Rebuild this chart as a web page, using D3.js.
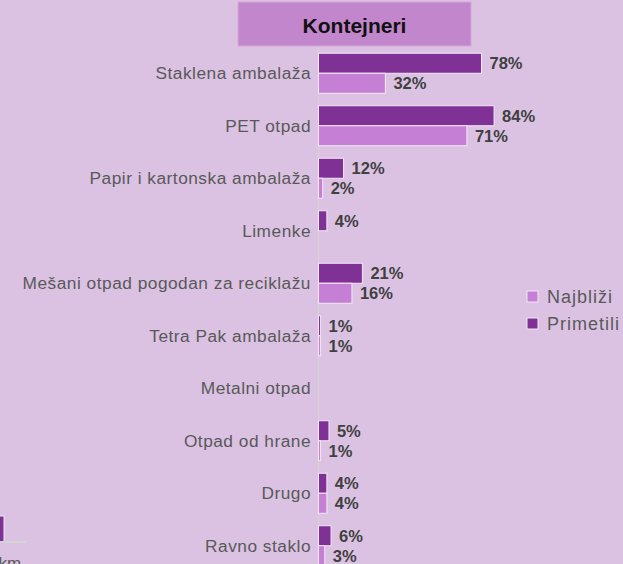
<!DOCTYPE html>
<html>
<head>
<meta charset="utf-8">
<script src="https://cdn.jsdelivr.net/npm/d3@7"></script>
<style>
  html, body { margin: 0; padding: 0; background: #dbc2e2; }
  svg { display: block; font-family: "Liberation Sans", Arial, sans-serif; }
</style>
</head>
<body>
<svg id="scene" width="623" height="564"></svg>
<script>
const categories = ['Staklena ambalaža', 'PET otpad', 'Papir i kartonska ambalaža', 'Limenke',
  'Mešani otpad pogodan za reciklažu', 'Tetra Pak ambalaža', 'Metalni otpad',
  'Otpad od hrane', 'Drugo', 'Ravno staklo'];
const series = ['Primetili', 'Najbliži'];
const primetili = [78, 84, 12, 4, 21, 1, 0, 5, 4, 6];
const najblizi = [32, 71, 2, 0, 16, 1, 0, 1, 4, 3];
const legendOrder = ['Najbliži', 'Primetili'];

const colors = { 'Primetili': '#7f3196', 'Najbliži': '#c57fd5' };

const svg = d3.select('#scene');
const W = 623, H = 564;

svg.append('rect').attr('width', W).attr('height', H).attr('fill', '#dbc2e2');

let rows = categories.map((c, i) => ({ cat: c, values: [
  { s: 'Primetili', v: primetili[i] },
  { s: 'Najbliži', v: najblizi[i] }
]}));

let scaleX = d3.scaleLinear().domain([0, 100]).range([318.5, 527.5]);
let scaleY = d3.scaleBand().domain(categories).range([47, 572]).paddingInner(0.238).paddingOuter(0.119);
let scaleS = d3.scaleBand().domain(series).range([0, scaleY.bandwidth()]);

// axis line
svg.append('line')
  .attr('x1', scaleX(0)).attr('x2', scaleX(0))
  .attr('y1', 47).attr('y2', H)
  .attr('stroke', '#d4d4d4').attr('stroke-width', 1.5);

let groups = svg.selectAll('g.row').data(rows).enter().append('g')
  .attr('class', 'row')
  .attr('transform', (d) => 'translate(0,' + scaleY(d.cat) + ')');

groups.selectAll('rect').data((d) => d.values.filter((e) => e.v > 0)).enter().append('rect')
  .attr('x', scaleX(0))
  .attr('y', (d) => scaleS(d.s))
  .attr('width', (d) => scaleX(d.v) - scaleX(0))
  .attr('height', scaleS.bandwidth())
  .attr('fill', (d) => colors[d.s])
  .attr('stroke', '#f3e8f5').attr('stroke-width', 1);

groups.selectAll('text.val').data((d) => d.values.filter((e) => e.v > 0)).enter().append('text')
  .attr('class', 'val')
  .attr('x', (d) => scaleX(d.v) + 8)
  .attr('y', (d) => scaleS(d.s) + scaleS.bandwidth() / 2)
  .attr('dy', '0.36em')
  .attr('font-size', 16.5).attr('font-weight', 'bold').attr('fill', '#404040')
  .text((d) => d.v + '%');

// category labels
svg.selectAll('text.cat').data(categories).enter().append('text')
  .attr('class', 'cat')
  .attr('x', 311)
  .attr('y', (d) => scaleY(d) + scaleY.bandwidth() / 2)
  .attr('dy', '0.36em')
  .attr('text-anchor', 'end')
  .attr('font-size', 17.3).attr('letter-spacing', 0.5).attr('fill', '#595959')
  .text((d) => d);

// title
svg.append('rect')
  .attr('x', 238).attr('y', 2).attr('width', 233).attr('height', 44)
  .attr('fill', '#c286cc').attr('stroke', '#d3a6da').attr('stroke-width', 1);
svg.append('text')
  .attr('x', 354.5).attr('y', 25).attr('dy', '0.36em')
  .attr('text-anchor', 'middle')
  .attr('font-size', 21).attr('font-weight', 'bold').attr('fill', '#111')
  .text('Kontejneri');

// legend
let legend = svg.selectAll('g.leg').data(legendOrder).enter().append('g')
  .attr('class', 'leg')
  .attr('transform', (d, i) => 'translate(527,' + (291 + i * 27) + ')');
legend.append('rect')
  .attr('width', 11).attr('height', 11)
  .attr('fill', (d) => colors[d])
  .attr('stroke', '#f3e8f5').attr('stroke-width', 1);
legend.append('text')
  .attr('x', 20).attr('y', 5.5).attr('dy', '0.36em')
  .attr('font-size', 18).attr('letter-spacing', 1).attr('fill', '#595959')
  .text((d) => d);

// remnant of the neighbouring chart, bottom left
svg.append('rect').attr('x', -10).attr('y', 516).attr('width', 14).attr('height', 26)
  .attr('fill', colors['Primetili']).attr('stroke', '#f3e8f5');
svg.append('line').attr('x1', 0).attr('x2', 27).attr('y1', 542).attr('y2', 542)
  .attr('stroke', '#d4d4d4').attr('stroke-width', 2);
svg.append('text').attr('x', -1.5).attr('y', 569)
  .attr('font-size', 17).attr('fill', '#595959').text('km');
</script>
</body>
</html>
